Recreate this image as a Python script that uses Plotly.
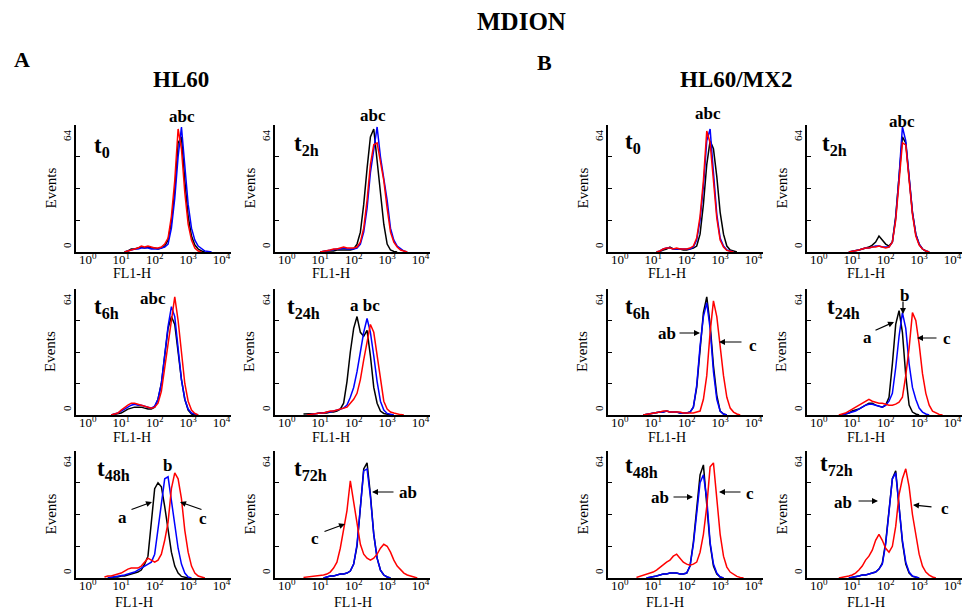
import plotly.graph_objects as go

W, H = 973, 612
SERIF = "Liberation Serif"

# ---------------- data ----------------
# bin centres: log10(FL1-H)
BIN_EXP = [0.5, 0.6, 0.7, 0.8, 0.9, 1.0, 1.1, 1.2, 1.3, 1.4, 1.5, 1.6, 1.7, 1.8, 1.9,
           2.0, 2.1, 2.2, 2.3, 2.4, 2.5, 2.6, 2.7, 2.8, 2.9, 3.0, 3.1, 3.2, 3.3, 3.4,
           3.5, 3.6, 3.7, 3.8, 3.9]

# HL60 (A)
A_T0_BLACK = [0,0,0,0,0,0,0, 0.5,1.5,1.5,2,2.5,2,2.5,2,2,1.5,2,3,6,15,31,55,58,36,18,8,3.5,1.5,0.5, 0,0,0,0,0]
A_T0_RED   = [0,0,0,0,0,0,0, 0.5,1,1.5,2,3,2.5,3,2.5,2,2,2.5,4,7,18,36,62,52,30,14,6,2,0.5, 0,0,0,0,0,0]
A_T0_BLUE  = [0,0,0,0,0,0,0, 0.5,1,1.5,1.5,2,2,2,1.5,1.5,1.5,2,2.5,4,12,27,48,63,42,24,12,6,3,1.5,0.5,0.3, 0,0,0]

A_T2_BLACK = [0,0,0,0,0,0,0.3,0.5,0.5,0.5, 1,1,1,1,1,1.5,4,10,24,42,58,62,46,30,14,4,1,0.3, 0,0,0,0,0,0,0]
A_T2_RED   = [0,0,0,0,0,0, 0.3,0.5,1,1.5,1.5,2,2.5,2,2,2,2.5,5,12,26,44,54,55,46,36,22,10,5,2.5,1,0.3, 0,0,0,0]
A_T2_BLUE  = [0,0,0,0,0,0, 0.3,0.5,1,1,1.5,1.5,2,1.5,1.5,1.5,2,4,10,22,40,52,63,48,38,26,12,6,3,1.5,0.5, 0,0,0,0]

A_T6_BLACK = [0,0,0, 0.3,0.5,1,2,3,3.5,4,4,4,3.5,3,3,4,8,16,30,44,50,46,32,18,8,2.5,0.5, 0,0,0,0,0,0,0,0]
A_T6_BLUE  = [0,0,0, 0.5,1,2,3,4,5,5.5,5,5,4.5,4,3.5,4.5,8,16,30,45,55,50,34,18,8,3,1,0.3, 0,0,0,0,0,0,0]
A_T6_RED   = [0,0,0, 0.5,1,2.5,4,5,6,6,5.5,5,4.5,4,3.5,4,6,12,24,38,50,60,48,30,16,7,2.5,0.8, 0,0,0,0,0,0,0]

A_T24_BLACK = [0.5,0.5,0.5,0.5,0.8,1,1,1,1.5,1.5,2,3,6,17,32,44,50,42,40,43,30,14,6,2,0.8,0.3, 0,0,0,0,0,0,0,0,0]
A_T24_BLUE  = [0,0,0.3,0.5,0.8,1,1,1.5,1.5,2,2.5,3,3.5,5,9,14,22,32,42,49,42,30,17,7,2.5,0.8,0.3, 0,0,0,0,0,0,0,0]
A_T24_RED   = [0,0,0.3,0.5,0.8,1,1,1.5,2,2,2.5,3,3.5,4,6,8,11,18,28,38,46,42,30,17,7,3,1.5,1,0.5,0.2, 0,0,0,0,0]

A_T48_BLACK = [0,0,0.3,0.5,0.5,1,1,1.5,2,2.5,3,4,7,11,28,45,48,46,36,24,13,6,2.5,0.8,0.3, 0,0,0,0,0,0,0,0,0,0]
A_T48_BLUE  = [0,0,0.3,0.5,0.8,1,1.5,2,2.5,3,4,5,6,7,8,12,24,38,50,51,40,27,15,7,2.5,0.5, 0,0,0,0,0,0,0,0,0]
A_T48_RED   = [0.5,1,1,1.5,2,2.5,3.5,4.5,5,5,5,6,8,10,9,8,9,12,19,28,45,53,50,40,24,13,6,2.5,1,0.3, 0,0,0,0,0]

A_T72_BLACK = [0,0,0,0,0,0,0, 0.5,1,1,1.5,2,2,2.5,3.5,7,16,36,55,58,42,22,10,4,1.5,0.5, 0,0,0,0,0,0,0,0,0]
A_T72_BLUE  = [0,0,0,0,0,0,0, 0.5,1,1,1.5,2,2,2.5,3.5,7,17,37,54,55,41,22,10,4,1.5,0.5, 0,0,0,0,0,0,0,0,0]
A_T72_RED   = [0.3,0.5,0.5,0.8,1,1,1.5,2,3,5,8,15,24,34,49,38,26,17,12,10,9,10,12,15,17,16,13,9,6,4,2.5,1.5,1,0.5,0]

# HL60/MX2 (B)
B_T0_RED   = [0,0,0,0,0,0,0, 0.5,1.5,2,2,1.5,2,1.5,1.5,1.5,2,3,7,18,36,61,55,36,17,6,2.5,0.8,0.2, 0,0,0,0,0,0]
B_T0_BLUE  = [0,0,0,0,0,0,0, 0.5,1.5,2,2,1.5,1.5,1.5,1.5,1.5,1.5,2.5,6,16,33,56,62,40,19,7,3,1,0.3, 0,0,0,0,0,0]
B_T0_BLACK = [0,0,0,0,0,0,0, 0.3,1,1.5,2.5,1.5,1.5,1.5,1,1,1.5,2,3,9,24,44,56,52,38,20,9,3,1,0.3, 0,0,0,0,0]

B_T2_BLACK = [0,0,0,0,0, 0.3,0.5,1,1.5,2,2.5,3.5,5,8,6,4,3,5,18,38,58,55,36,20,9,4,1.5,0.5, 0,0,0,0,0,0,0]
B_T2_BLUE  = [0,0,0,0,0, 0.3,0.5,1,1.5,2,2,2.5,3,3,2.5,2.5,2.5,5,17,38,63,56,36,20,9,4,1.5,0.5, 0,0,0,0,0,0,0]
B_T2_RED   = [0,0,0,0,0, 0.3,0.5,1,1.5,2,2,2.5,2.5,3,2.5,2,2.5,5,16,36,55,54,35,19,8,3.5,1.5,0.5, 0,0,0,0,0,0,0]

B_T6_BLACK = [0,0,0, 0.3,0.5,1,1,1.5,1.5,2,1.5,1.5,1.5,1,1,1,1.5,4,14,33,52,60,46,25,10,2,0.5, 0,0,0,0,0,0,0,0]
B_T6_BLUE  = [0,0,0, 0.3,0.5,1,1,1.5,1.5,2,1.5,1.5,1.5,1,1,1,1.5,4,15,35,50,57,44,22,8,2,0.5, 0,0,0,0,0,0,0,0]
B_T6_RED   = [0,0,0, 0.3,0.5,1,1,1.5,2,2,1.5,1.5,1.5,1.5,1,1,1,1,1.5,2,8,20,42,58,50,35,20,9,3.5,1.5,0.5, 0,0,0,0]

B_T24_BLACK = [0,0,0, 0.5,1,2,2.5,3,4,5,6,6,5,4.5,4,5,9,26,46,53,42,20,5,1.5,0.5, 0,0,0,0,0,0,0,0,0,0]
B_T24_BLUE  = [0,0,0, 0.5,1,1.5,2,3,4,5,5.5,5.5,5,4.5,4,5,7,11,24,40,52,44,26,14,8,3.5,1.5,0.5, 0,0,0,0,0,0,0]
B_T24_RED   = [0,0, 0.5,1,2,3,4,5,6,7,8,7,6.5,6,6,5.5,5,5,5.5,6.5,9,20,34,52,48,36,21,11,5,2,1,0.3, 0,0,0]

B_T48_BLACK = [0,0,0,0, 0.3,0.5,1,1.5,2,2,2.5,2.5,2.5,2,2,2.5,6,18,36,52,57,38,17,6,2,0.5, 0,0,0,0,0,0,0,0,0]
B_T48_BLUE  = [0,0,0,0, 0.3,0.5,1,1.5,2,2,2.5,2.5,2.5,2,2,2.5,6,17,34,48,52,40,18,7,2.5,0.5, 0,0,0,0,0,0,0,0,0]
B_T48_RED   = [0.3,0.8,1.5,2,2.5,3,4,5.5,7,8,9,11,12,10,8,7,6.5,7,8,13,22,36,56,58,40,22,11,5.5,3,2,0.8,0.3, 0,0,0]

B_T72_BLACK = [0,0,0,0,0, 0.3,0.5,1,1.5,1.5,2,2.5,3,4.5,7.5,18,35,50,54,36,18,7,2.5,0.8,0.3, 0,0,0,0,0,0,0,0,0,0]
B_T72_BLUE  = [0,0,0,0,0, 0.3,0.5,1,1.5,1.5,2,2.5,3,4.5,7,17,34,50,53,37,19,8,3,1,0.3, 0,0,0,0,0,0,0,0,0,0]
B_T72_RED   = [0,0, 0.3,0.5,1,1.5,2.5,4,6,9,11,14,19,22,19,15,13,16,26,42,50,55,46,32,21,12,6,3,1.5,0.5, 0,0,0,0,0]

TICK_VALS = [1, 10, 100, 1000, 10000]
TICK_TEXT = ["10<sup>0</sup>", "10<sup>1</sup>", "10<sup>2</sup>", "10<sup>3</sup>", "10<sup>4</sup>"]
Y_MAX = 64

# ---------------- layout spec (pixels) ----------------
COLS = {"A1": (76, 231), "A2": (275, 430), "B1": (608, 763), "B2": (807, 962)}
ROWS = {1: (125, 252), 2: (289, 415), 3: (451, 578)}

panels = [
    dict(col="A1", row=1, curves=(A_T0_BLACK, A_T0_BLUE, A_T0_RED), t="t<sub>0</sub>", tpos=(92, 147), fl=(132, 273)),
    dict(col="A2", row=1, curves=(A_T2_BLACK, A_T2_BLUE, A_T2_RED), t="t<sub>2h</sub>", tpos=(292, 145), fl=(331, 273)),
    dict(col="A1", row=2, curves=(A_T6_BLACK, A_T6_BLUE, A_T6_RED), t="t<sub>6h</sub>", tpos=(92, 308), fl=(132, 437)),
    dict(col="A2", row=2, curves=(A_T24_BLACK, A_T24_BLUE, A_T24_RED), t="t<sub>24h</sub>", tpos=(285, 308), fl=(331, 437)),
    dict(col="A1", row=3, curves=(A_T48_BLACK, A_T48_BLUE, A_T48_RED), t="t<sub>48h</sub>", tpos=(95, 470), fl=(134, 602)),
    dict(col="A2", row=3, curves=(A_T72_BLACK, A_T72_BLUE, A_T72_RED), t="t<sub>72h</sub>", tpos=(292, 470), fl=(353, 602)),
    dict(col="B1", row=1, curves=(B_T0_BLACK, B_T0_BLUE, B_T0_RED), t="t<sub>0</sub>", tpos=(623, 143), fl=(667, 273)),
    dict(col="B2", row=1, curves=(B_T2_BLACK, B_T2_BLUE, B_T2_RED), t="t<sub>2h</sub>", tpos=(820, 145), fl=(866, 273)),
    dict(col="B1", row=2, curves=(B_T6_BLACK, B_T6_BLUE, B_T6_RED), t="t<sub>6h</sub>", tpos=(623, 308), fl=(667, 437)),
    dict(col="B2", row=2, curves=(B_T24_BLACK, B_T24_BLUE, B_T24_RED), t="t<sub>24h</sub>", tpos=(825, 308), fl=(866, 437)),
    dict(col="B1", row=3, curves=(B_T48_BLACK, B_T48_BLUE, B_T48_RED), t="t<sub>48h</sub>", tpos=(623, 467), fl=(665, 602)),
    dict(col="B2", row=3, curves=(B_T72_BLACK, B_T72_BLUE, B_T72_RED), t="t<sub>72h</sub>", tpos=(818, 465), fl=(866, 602)),
]

COLORS = ("#000000", "#0000ff", "#ff0000")

# plain text labels (pixel positions)
TEXT_LABELS = [
    ("abc", 182, 117), ("abc", 373, 115), ("abc", 153, 298), ("a bc", 365, 305),
    ("abc", 708, 113), ("abc", 902, 122),
    ("b", 167, 465), ("a", 122, 517), ("c", 203, 518),
    ("ab", 408, 492), ("c", 315, 538),
    ("ab", 667, 333), ("c", 753, 345),
    ("b", 904, 295), ("a", 867, 337), ("c", 947, 338),
    ("ab", 660, 497), ("c", 750, 493),
    ("ab", 843, 502), ("c", 945, 508),
]
# arrows: tail (x,y) -> head (x,y) in pixels
ARROWS = [
    ((130, 510), (152, 502)), ((203, 510), (180, 502)),
    ((395, 492), (372, 492)), ((323, 532), (345, 524)),
    ((678, 333), (700, 333)), ((743, 342), (719, 342)),
    ((903, 300), (903, 314)), ((874, 331), (894, 322)), ((938, 338), (917, 338)),
    ((672, 497), (693, 497)), ((742, 492), (719, 492)),
    ((857, 501), (878, 501)), ((933, 507), (913, 505)),
]


def px(x):
    return x / W


def py(y):
    return 1 - y / H


def label(text, x, y, size, bold=False, angle=0, xanchor="center"):
    f = dict(family=SERIF, size=size, color="black")
    if bold:
        f["weight"] = "bold"
    return dict(text=text, x=px(x), y=py(y), xref="paper", yref="paper",
                xanchor=xanchor, yanchor="middle", showarrow=False,
                textangle=angle, font=f)


fig = go.Figure()
annotations = []
layout = dict(
    width=W, height=H, autosize=False,
    margin=dict(l=0, r=0, t=0, b=0),
    paper_bgcolor="white", plot_bgcolor="white",
    showlegend=False,
)

xs_all = [10 ** e for e in BIN_EXP]

for i, p in enumerate(panels, start=1):
    x0, x1 = COLS[p["col"]]
    yt, yb = ROWS[p["row"]]
    sfx = "" if i == 1 else str(i)
    for vals, col in zip(p["curves"], COLORS):
        nz = [k for k, v in enumerate(vals) if v > 0]
        a = max(nz[0] - 1, 0)
        b = min(nz[-1] + 1, len(vals) - 1)
        fig.add_trace(go.Scatter(
            x=xs_all[a:b + 1], y=vals[a:b + 1], mode="lines",
            line=dict(color=col, width=1.5),
            xaxis="x" + sfx, yaxis="y" + sfx, hoverinfo="skip",
        ))
    layout["xaxis" + sfx] = dict(
        domain=[px(x0), px(x1)], anchor="y" + sfx, type="log",
        range=[-0.35, 4.28], showline=True, linecolor="black", linewidth=1.5,
        showgrid=False, zeroline=False, ticks="",
        tickvals=TICK_VALS, ticktext=TICK_TEXT, ticklabelstandoff=-5,
        tickfont=dict(family=SERIF, size=13, color="black"),
    )
    layout["yaxis" + sfx] = dict(
        domain=[py(yb), py(yt)], anchor="x" + sfx,
        range=[0, Y_MAX], showline=True, linecolor="black", linewidth=1.5,
        showgrid=False, zeroline=False, ticks="inside", ticklen=4, tickwidth=1,
        tickcolor="black", tickvals=[16, 32, 48, 64], showticklabels=False,
    )
    annotations.append(label("64", x0 - 9, yt + 10, 11, angle=-90))
    annotations.append(label("0", x0 - 9, yb - 7, 11, angle=-90))
    annotations.append(label("Events", x0 - 26, (yt + yb) / 2, 15, angle=-90))
    annotations.append(label("FL1-H", p["fl"][0], p["fl"][1], 14))
    annotations.append(label(p["t"], p["tpos"][0], p["tpos"][1], 23, bold=True, xanchor="left"))

for txt, x, y in TEXT_LABELS:
    annotations.append(label(txt, x, y, 17, bold=True))

for (tx, ty), (hx, hy) in ARROWS:
    annotations.append(dict(text="", x=px(hx), y=py(hy), xref="paper", yref="paper",
                            ax=tx - hx, ay=ty - hy, axref="pixel", ayref="pixel",
                            showarrow=True, arrowhead=2, arrowsize=1, arrowwidth=1.2,
                            arrowcolor="black"))

# titles
for txt, x, y, size in [("MDION", 521, 22, 25), ("A", 22, 60, 22), ("B", 544, 63, 22),
                        ("HL60", 181, 80, 23), ("HL60/MX2", 736, 80, 23)]:
    annotations.append(label(txt, x, y, size, bold=True))

layout["annotations"] = annotations
fig.update_layout(**layout)
fig.write_html("out.html", config={"displayModeBar": False},
               post_script="document.body.style.margin='0';document.body.style.overflow='hidden';")
